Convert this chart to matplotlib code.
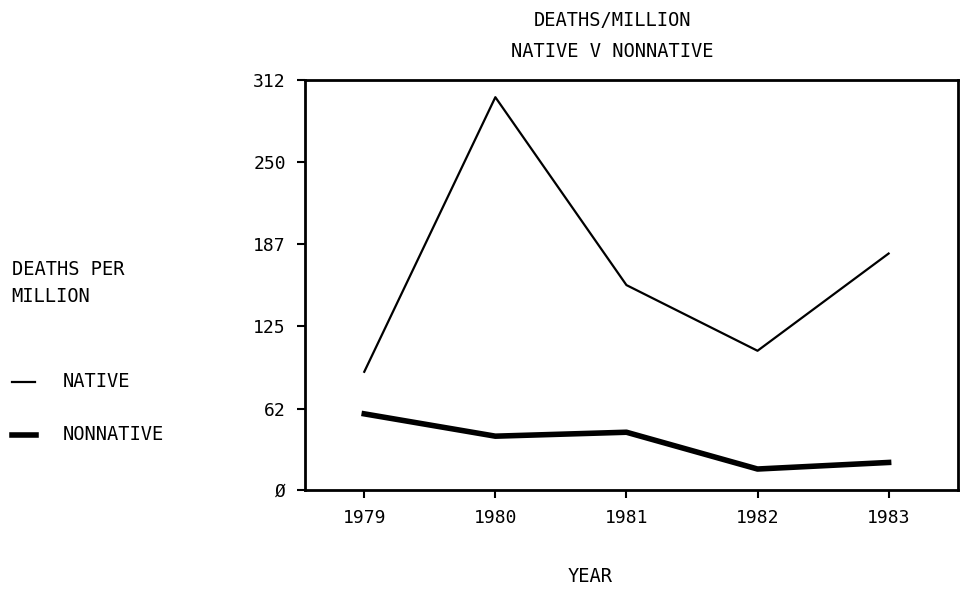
import numpy as np
import matplotlib.pyplot as plt

plt.rcParams['font.family'] = 'DejaVu Sans Mono'

# data
years = [1979, 1980, 1981, 1982, 1983]
native = [90, 299, 156, 106, 180]
nonnative = [58, 41, 44, 16, 21]
yticks = [0, 62, 125, 187, 250, 312]

fig = plt.figure(figsize=(9.6, 5.89), dpi=100)
ax = fig.add_axes([0.318, 0.168, 0.680, 0.696])

ax.plot(years, native, color='black', linewidth=1.6)
ax.plot(years, nonnative, color='black', linewidth=4)

ax.set_xlim(1978.55, 1983.53)
ax.set_ylim(0, 312)
ax.set_xticks(years)
ax.set_yticks(yticks)
ax.set_yticklabels(['Ø' if t == 0 else str(t) for t in yticks])
ax.tick_params(direction='out', length=6, width=1.5, labelsize=13, pad=8)
for s in ax.spines.values():
    s.set_linewidth(2)

fig.text(0.638, 0.965, 'DEATHS/MILLION', ha='center', va='center', fontsize=13.5)
fig.text(0.638, 0.913, 'NATIVE V NONNATIVE', ha='center', va='center', fontsize=13.5)
fig.text(0.615, 0.022, 'YEAR', ha='center', va='center', fontsize=13.5)

# legend text on the left
fig.text(0.012, 0.542, 'DEATHS PER', ha='left', va='center', fontsize=13.5)
fig.text(0.012, 0.496, 'MILLION', ha='left', va='center', fontsize=13.5)
fig.lines.append(plt.Line2D([0.012, 0.036], [0.352, 0.352], transform=fig.transFigure,
                            color='black', linewidth=1.6))
fig.text(0.065, 0.352, 'NATIVE', ha='left', va='center', fontsize=13.5)
fig.lines.append(plt.Line2D([0.012, 0.038], [0.262, 0.262], transform=fig.transFigure,
                            color='black', linewidth=4))
fig.text(0.065, 0.262, 'NONNATIVE', ha='left', va='center', fontsize=13.5)

plt.savefig('out.png', dpi=100)
